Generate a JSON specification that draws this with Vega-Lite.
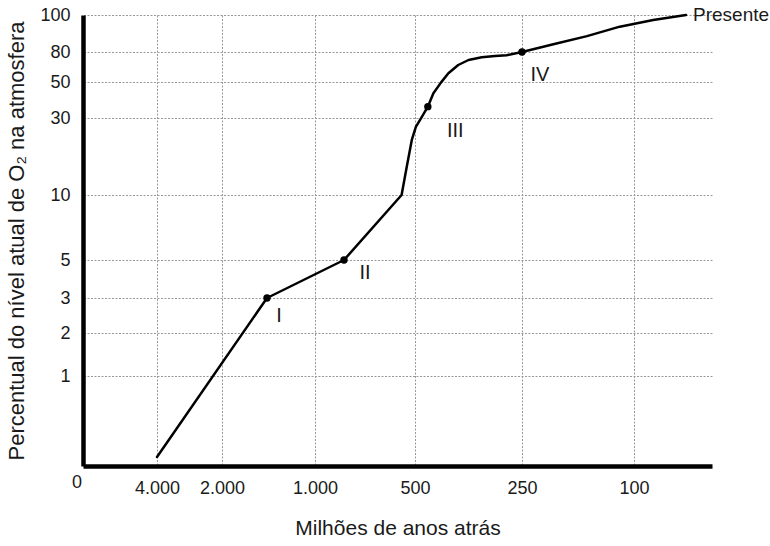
{
  "$schema": "https://vega.github.io/schema/vega-lite/v6.json",
  "width": 629,
  "height": 451,
  "autosize": {"type": "none"},
  "padding": {"left": 83, "top": 15, "right": 58, "bottom": 80},
  "background": "white",
  "config": {
    "view": {"stroke": null},
    "font": "Liberation Sans",
    "axis": {
      "domainColor": "#000000",
      "domainWidth": 4.5,
      "gridColor": "#999999",
      "gridDash": [2, 1.5],
      "gridWidth": 1,
      "ticks": false,
      "labelFont": "Liberation Sans",
      "labelFontSize": 18,
      "labelColor": "#1a1a1a",
      "labelFlush": false,
      "labelOverlap": false,
      "titleFont": "Liberation Sans",
      "titleFontSize": 21,
      "titleFontWeight": "normal",
      "titleColor": "#1a1a1a"
    }
  },
  "datasets": {
    "curva": [
      {"anos": 4000, "o2": 0.1},
      {"anos": 1516, "o2": 3, "marco": "I"},
      {"anos": 855, "o2": 5, "marco": "II"},
      {"anos": 567, "o2": 10},
      {"anos": 541, "o2": 17.4},
      {"anos": 516, "o2": 24.3},
      {"anos": 498, "o2": 27.7},
      {"anos": 484, "o2": 30.6},
      {"anos": 470, "o2": 36.3, "marco": "III"},
      {"anos": 457, "o2": 43.7},
      {"anos": 439, "o2": 49.8},
      {"anos": 422, "o2": 58.7},
      {"anos": 399, "o2": 67},
      {"anos": 375, "o2": 72},
      {"anos": 344, "o2": 74.7},
      {"anos": 313, "o2": 76},
      {"anos": 286, "o2": 76.8},
      {"anos": 250, "o2": 80, "marco": "IV"},
      {"anos": 208, "o2": 84.2},
      {"anos": 163, "o2": 88.6},
      {"anos": 119, "o2": 93.7},
      {"anos": 63, "o2": 97.3},
      {"anos": 0, "o2": 100}
    ],
    "rotulos": [
      {"anos": 1387, "o2": 2.49, "texto": "I"},
      {"anos": 750, "o2": 4.32, "texto": "II"},
      {"anos": 406, "o2": 26.6, "texto": "III"},
      {"anos": 226, "o2": 57, "texto": "IV"}
    ],
    "extremos": [
      {"anos": 0, "o2": 100, "texto": "Presente"},
      {"anos": 6277, "o2": 0, "texto": "0"}
    ]
  },
  "layer": [
    {
      "data": {"name": "curva"},
      "mark": {"type": "line", "color": "#000000", "strokeWidth": 2.5, "strokeCap": "round", "strokeJoin": "round"},
      "encoding": {
        "x": {
          "field": "anos",
          "type": "quantitative",
          "scale": {
            "domain": [-50, 0, 100, 250, 500, 1000, 2000, 4000, 6277],
            "range": [629, 603, 551, 439, 332, 232, 139, 74, 0],
            "nice": false,
            "zero": false
          },
          "axis": {
            "values": [4000, 2000, 1000, 500, 250, 100],
            "labelExpr": "replace(format(datum.value, ',d'), ',', '.')",
            "title": "Milhões de anos atrás",
            "grid": true,
            "labelPadding": 13,
            "titlePadding": 20
          }
        },
        "y": {
          "field": "o2",
          "type": "quantitative",
          "scale": {
            "domain": [0, 1, 2, 3, 5, 10, 30, 50, 80, 100],
            "range": [451, 361, 318, 283, 245, 180, 103, 67, 37, 0],
            "nice": false,
            "zero": false
          },
          "axis": {
            "values": [1, 2, 3, 5, 10, 30, 50, 80, 100],
            "title": "Percentual do nível atual de O₂  na atmosfera",
            "titleFontSize": 22,
            "grid": true,
            "labelPadding": 13,
            "titlePadding": 11
          }
        }
      }
    },
    {
      "data": {"name": "curva"},
      "transform": [{"filter": "isValid(datum.marco)"}],
      "mark": {"type": "point", "filled": true, "color": "#000000", "size": 55, "opacity": 1},
      "encoding": {
        "x": {"field": "anos", "type": "quantitative"},
        "y": {"field": "o2", "type": "quantitative"}
      }
    },
    {
      "data": {"name": "rotulos"},
      "mark": {"type": "text", "fontSize": 20, "color": "#1a1a1a", "align": "center", "baseline": "middle", "font": "Liberation Sans"},
      "encoding": {
        "x": {"field": "anos", "type": "quantitative"},
        "y": {"field": "o2", "type": "quantitative"},
        "text": {"field": "texto"}
      }
    },
    {
      "data": {"name": "extremos"},
      "transform": [{"filter": "datum.texto == 'Presente'"}],
      "mark": {"type": "text", "fontSize": 19, "color": "#1a1a1a", "align": "left", "baseline": "middle", "dx": 7, "font": "Liberation Sans"},
      "encoding": {
        "x": {"field": "anos", "type": "quantitative"},
        "y": {"field": "o2", "type": "quantitative"},
        "text": {"field": "texto"}
      }
    },
    {
      "data": {"name": "extremos"},
      "transform": [{"filter": "datum.texto == '0'"}],
      "mark": {"type": "text", "fontSize": 18, "color": "#1a1a1a", "align": "center", "baseline": "middle", "dx": -6, "dy": 17, "font": "Liberation Sans"},
      "encoding": {
        "x": {"field": "anos", "type": "quantitative"},
        "y": {"field": "o2", "type": "quantitative"},
        "text": {"field": "texto"}
      }
    }
  ]
}
